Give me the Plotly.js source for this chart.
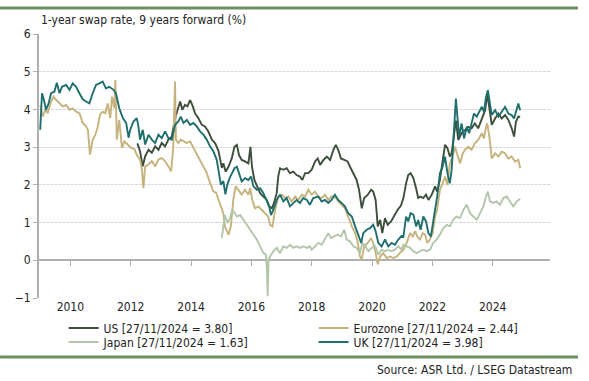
<!DOCTYPE html>
<html>
<head>
<meta charset="utf-8">
<script src="https://cdn.plot.ly/plotly-3.0.1.min.js"></script>
<style>html,body{margin:0;padding:0;background:#fff;}#chart{width:589px;height:381px;}</style>
</head>
<body>
<div id="chart"></div>
<script>
// ---- data (decimal years, % values) ----
const seriesNames = ["US [27/11/2024 = 3.80]", "Eurozone [27/11/2024 = 2.44]", "Japan [27/11/2024 = 1.63]", "UK [27/11/2024 = 3.98]"];
const yearTicks = [2010, 2012, 2014, 2016, 2018, 2020, 2022, 2024];
const yTicks = [-1, 0, 1, 2, 3, 4, 5, 6];

const usX = [2012.22,2012.31,2012.40,2012.48,2012.59,2012.70,2012.81,2012.92,2013.03,2013.14,2013.25,2013.36,2013.47,2013.56,2013.64,2013.71,2013.80,2013.88,2013.97,2014.06,2014.13,2014.24,2014.36,2014.46,2014.57,2014.69,2014.80,2014.91,2015.02,2015.07,2015.15,2015.24,2015.35,2015.44,2015.52,2015.59,2015.68,2015.79,2015.90,2015.97,2016.02,2016.10,2016.18,2016.29,2016.40,2016.51,2016.59,2016.68,2016.75,2016.84,2016.89,2016.95,2017.06,2017.17,2017.28,2017.39,2017.50,2017.61,2017.69,2017.78,2017.89,2018.00,2018.11,2018.20,2018.28,2018.39,2018.50,2018.61,2018.72,2018.80,2018.88,2018.97,2019.08,2019.19,2019.27,2019.38,2019.49,2019.57,2019.66,2019.74,2019.86,2019.97,2020.04,2020.12,2020.19,2020.27,2020.34,2020.43,2020.52,2020.63,2020.74,2020.85,2020.96,2021.04,2021.13,2021.20,2021.28,2021.37,2021.46,2021.53,2021.61,2021.70,2021.79,2021.87,2021.98,2022.09,2022.16,2022.25,2022.34,2022.42,2022.50,2022.58,2022.64,2022.71,2022.78,2022.86,2022.97,2023.08,2023.19,2023.30,2023.41,2023.52,2023.64,2023.75,2023.82,2023.89,2023.97,2024.08,2024.19,2024.30,2024.41,2024.52,2024.63,2024.71,2024.77,2024.85,2024.91];
const usY = [3.1,2.89,2.49,2.76,2.93,2.85,3.02,2.93,3.11,3.02,3.2,3.28,3.77,3.99,4.21,3.99,4.12,4.08,4.25,4.08,3.9,3.77,3.59,3.55,3.42,3.2,3.1,2.9,2.45,2.57,2.35,2.48,2.7,3.01,3.06,2.79,2.66,2.62,2.57,3.01,2.48,2.13,1.96,1.78,1.69,1.6,1.43,1.38,1.52,1.78,2.22,2.44,2.4,2.44,2.31,2.35,2.26,2.22,2.13,2.31,2.31,2.4,2.62,2.7,2.53,2.66,2.75,2.66,2.93,3.06,2.93,2.7,2.66,2.62,2.48,2.31,2.13,1.87,1.38,1.65,1.74,1.87,1.82,1.6,0.9,1.07,0.72,1.12,0.94,1.03,1.2,1.34,1.45,1.65,2.04,2.26,2.31,2.18,1.91,1.65,1.69,1.65,1.74,1.6,1.74,1.96,1.82,2.13,2.62,3.06,2.97,2.75,2.84,3.32,3.7,3.19,3.37,3.45,3.54,3.5,3.63,3.5,3.76,3.98,4.42,4.07,3.59,3.76,3.89,3.76,3.85,3.72,3.5,3.28,3.67,3.81,3.80];

const euX = [2009.01,2009.08,2009.17,2009.25,2009.36,2009.44,2009.53,2009.64,2009.75,2009.86,2009.97,2010.08,2010.19,2010.30,2010.41,2010.52,2010.58,2010.65,2010.74,2010.83,2010.91,2010.98,2011.07,2011.16,2011.24,2011.32,2011.38,2011.46,2011.49,2011.54,2011.62,2011.71,2011.79,2011.90,2012.01,2012.12,2012.20,2012.31,2012.37,2012.42,2012.48,2012.59,2012.70,2012.81,2012.92,2013.03,2013.14,2013.25,2013.34,2013.41,2013.47,2013.50,2013.58,2013.66,2013.75,2013.86,2013.97,2014.08,2014.19,2014.30,2014.41,2014.52,2014.63,2014.74,2014.83,2014.91,2014.99,2015.07,2015.12,2015.24,2015.32,2015.40,2015.48,2015.57,2015.68,2015.79,2015.90,2015.96,2016.03,2016.12,2016.23,2016.34,2016.45,2016.56,2016.62,2016.70,2016.79,2016.89,2017.01,2017.12,2017.23,2017.34,2017.45,2017.56,2017.67,2017.78,2017.89,2018.00,2018.11,2018.22,2018.33,2018.44,2018.55,2018.66,2018.77,2018.88,2018.99,2019.10,2019.21,2019.33,2019.44,2019.53,2019.60,2019.66,2019.74,2019.86,2019.97,2020.04,2020.12,2020.19,2020.27,2020.37,2020.49,2020.60,2020.71,2020.82,2020.93,2021.04,2021.15,2021.26,2021.35,2021.43,2021.50,2021.59,2021.68,2021.76,2021.83,2021.92,2022.01,2022.09,2022.16,2022.25,2022.34,2022.42,2022.50,2022.58,2022.67,2022.75,2022.83,2022.92,2023.01,2023.08,2023.19,2023.30,2023.41,2023.52,2023.64,2023.71,2023.78,2023.82,2023.89,2023.97,2024.08,2024.19,2024.30,2024.41,2024.52,2024.63,2024.74,2024.85,2024.91];
const euY = [4.11,3.81,3.99,3.9,4.21,4.34,4.25,4.16,4.08,4.12,3.99,4.03,3.94,3.9,3.64,3.55,3.46,2.8,3.2,3.33,3.55,3.86,3.94,3.9,4.16,3.77,4.34,4.03,4.78,3.2,3.72,2.98,3.15,3.07,2.98,2.95,2.8,2.67,2.41,1.92,2.49,2.54,2.63,2.49,2.67,2.71,2.63,2.49,2.36,2.98,4.74,3.2,3.11,3.2,3.15,3.11,3.15,2.98,2.85,2.67,2.49,2.32,2.05,1.83,1.79,1.61,1.44,1.25,0.9,0.68,0.9,1.6,1.96,1.87,1.74,1.87,1.74,1.91,1.6,1.38,1.43,1.34,1.25,1.16,0.94,0.9,1.34,1.69,1.74,1.65,1.69,1.56,1.69,1.6,1.74,1.69,1.87,1.74,1.82,1.69,1.65,1.74,1.6,1.69,1.69,1.56,1.47,1.38,1.16,0.9,0.72,0.46,0.1,0.02,0.37,0.46,0.59,0.46,0.19,-0.11,0.1,0.19,0.06,0.1,0.06,0.1,0.2,0.28,0.46,0.72,0.63,0.77,0.63,0.55,0.72,0.68,0.46,0.55,0.72,1.16,1.34,1.87,2.04,2.22,2.0,2.57,2.75,3.01,2.79,2.57,2.84,2.93,3.01,2.93,3.1,3.19,3.37,3.23,3.54,3.63,3.28,2.7,2.84,2.75,2.88,2.84,2.7,2.75,2.62,2.66,2.44];

const jpX = [2015.02,2015.07,2015.12,2015.21,2015.29,2015.37,2015.44,2015.52,2015.63,2015.74,2015.85,2015.96,2016.07,2016.18,2016.29,2016.40,2016.48,2016.52,2016.54,2016.57,2016.62,2016.73,2016.84,2016.95,2017.06,2017.17,2017.28,2017.39,2017.50,2017.61,2017.72,2017.84,2017.94,2018.00,2018.11,2018.22,2018.33,2018.44,2018.55,2018.64,2018.75,2018.86,2018.97,2019.08,2019.16,2019.27,2019.38,2019.49,2019.60,2019.68,2019.77,2019.88,2019.99,2020.10,2020.21,2020.32,2020.43,2020.54,2020.65,2020.76,2020.87,2020.98,2021.04,2021.15,2021.26,2021.37,2021.48,2021.59,2021.70,2021.81,2021.92,2022.03,2022.14,2022.25,2022.36,2022.48,2022.58,2022.69,2022.80,2022.92,2023.03,2023.14,2023.25,2023.36,2023.47,2023.58,2023.69,2023.78,2023.84,2023.91,2024.02,2024.13,2024.24,2024.35,2024.47,2024.57,2024.68,2024.80,2024.91];
const jpY = [0.59,0.9,1.2,0.99,1.12,1.34,1.25,1.16,1.2,1.07,0.94,0.81,0.68,0.55,0.37,0.19,0.15,-0.3,-0.95,0.0,0.1,0.24,0.33,0.19,0.37,0.33,0.41,0.33,0.37,0.33,0.37,0.33,0.37,0.28,0.37,0.46,0.41,0.55,0.72,0.59,0.63,0.68,0.63,0.81,0.55,0.5,0.37,0.33,0.19,0.46,0.37,0.24,0.33,0.37,0.15,0.28,0.24,0.28,0.24,0.28,0.37,0.28,0.41,0.37,0.33,0.24,0.19,0.24,0.28,0.24,0.28,0.46,0.55,0.68,0.85,0.94,0.9,1.07,1.16,1.12,1.34,1.47,1.25,1.16,1.07,1.25,1.43,1.69,1.82,1.56,1.52,1.56,1.47,1.65,1.69,1.56,1.43,1.56,1.63];

const ukX = [2009.00,2009.06,2009.14,2009.19,2009.28,2009.36,2009.47,2009.55,2009.64,2009.72,2009.86,2009.97,2010.08,2010.19,2010.30,2010.41,2010.52,2010.63,2010.74,2010.85,2010.96,2011.07,2011.18,2011.29,2011.43,2011.51,2011.62,2011.74,2011.85,2011.93,2011.98,2012.09,2012.20,2012.25,2012.31,2012.40,2012.48,2012.59,2012.70,2012.81,2012.92,2013.03,2013.14,2013.25,2013.36,2013.47,2013.58,2013.66,2013.75,2013.86,2013.97,2014.08,2014.19,2014.30,2014.41,2014.52,2014.63,2014.74,2014.85,2014.93,2014.99,2015.07,2015.14,2015.20,2015.29,2015.44,2015.52,2015.59,2015.68,2015.79,2015.90,2015.99,2016.07,2016.18,2016.29,2016.40,2016.51,2016.59,2016.65,2016.73,2016.84,2016.95,2017.06,2017.17,2017.28,2017.39,2017.50,2017.61,2017.72,2017.84,2017.94,2018.05,2018.22,2018.33,2018.44,2018.55,2018.66,2018.77,2018.88,2018.99,2019.10,2019.21,2019.33,2019.44,2019.55,2019.64,2019.71,2019.82,2019.93,2020.04,2020.12,2020.21,2020.32,2020.43,2020.54,2020.65,2020.76,2020.87,2020.98,2021.04,2021.13,2021.20,2021.28,2021.37,2021.46,2021.53,2021.61,2021.70,2021.79,2021.87,2021.95,2022.01,2022.09,2022.16,2022.25,2022.34,2022.42,2022.50,2022.58,2022.64,2022.69,2022.75,2022.78,2022.83,2022.89,2022.97,2023.05,2023.14,2023.22,2023.30,2023.38,2023.47,2023.56,2023.64,2023.71,2023.78,2023.84,2023.91,2023.97,2024.08,2024.19,2024.30,2024.41,2024.52,2024.63,2024.71,2024.80,2024.85,2024.91];
const ukY = [3.46,4.43,4.2,3.99,4.16,4.43,4.47,4.71,4.43,4.6,4.65,4.52,4.69,4.6,4.43,4.27,4.21,4.16,4.43,4.65,4.69,4.74,4.56,4.6,4.52,4.43,4.03,3.77,3.64,3.25,3.45,3.68,3.77,3.59,3.2,3.46,3.07,3.33,3.2,3.11,3.33,3.24,3.42,3.24,3.2,3.59,3.68,3.81,3.64,3.72,3.59,3.64,3.55,3.42,3.33,3.2,3.02,2.89,2.67,2.32,2.0,2.1,1.75,2.0,2.2,2.44,2.48,2.31,2.09,2.18,2.13,2.22,1.96,1.87,1.91,1.78,1.6,1.43,1.2,1.34,1.6,1.74,1.56,1.65,1.43,1.52,1.6,1.52,1.65,1.6,1.47,1.65,1.69,1.56,1.6,1.52,1.6,1.74,1.6,1.52,1.43,1.25,1.16,0.9,0.63,0.46,0.72,0.81,0.85,0.94,0.77,0.46,0.37,0.55,0.37,0.46,0.41,0.55,0.65,0.63,1.16,1.03,1.25,1.21,0.9,1.07,0.81,1.16,1.03,0.72,0.63,0.99,1.34,1.69,2.31,2.48,2.75,2.31,2.04,2.4,3.1,3.63,4.29,3.81,3.28,3.63,3.23,3.54,3.37,3.63,3.89,3.81,3.94,4.07,3.94,4.33,4.51,4.16,3.85,3.98,3.81,3.94,4.07,3.89,3.85,3.76,3.98,4.16,3.98];

// ---- styling ----
const colors = ["#3d4f3c", "#c6b27c", "#b2c6aa", "#1f6f6d"];
const legendOf = ["legend", "legend", "legend2", "legend2"];
const FONT = "'DejaVu Sans Condensed', 'DejaVu Sans', sans-serif";
const GRID = "#d6d6d6", AXIS = "#b0b0b0";

const mk = (x, y, i) => ({
  type: "scatter", mode: "lines", x: x, y: y, name: seriesNames[i], legend: legendOf[i],
  line: {color: colors[i], width: 1.9}, hoverinfo: "skip"
});

// helper trace that only carries the overlay axes (tick marks on the zero line, gridlines)
const axisCarrier = {type: "scatter", mode: "lines", x: [yearTicks[0]], y: [yTicks[1]],
  xaxis: "x2", yaxis: "y2", showlegend: false, hoverinfo: "skip", line: {width: 0}};

const traces = [axisCarrier, mk(usX, usY, 0), mk(euX, euY, 1), mk(jpX, jpY, 2), mk(ukX, ukY, 3)];

const legendBase = {
  orientation: "h", xref: "container", yref: "container",
  x: 0.108, xanchor: "left", yanchor: "middle",
  entrywidth: 205, entrywidthmode: "pixels",
  font: {family: FONT, size: 12, color: "#222"},
  itemwidth: 30, bgcolor: "rgba(0,0,0,0)", borderwidth: 0
};

const layout = {
  width: 589, height: 381,
  margin: {l: 39, r: 39, t: 34, b: 83, autoexpand: false},
  paper_bgcolor: "#fff", plot_bgcolor: "#fff",
  font: {family: FONT, size: 12, color: "#222"},
  showlegend: true,
  legend: Object.assign({}, legendBase, {y: 1 - 328 / 381}),
  legend2: Object.assign({}, legendBase, {y: 1 - 342 / 381}),
  xaxis: {
    range: [2008.96, 2025.9], tickvals: yearTicks, ticktext: yearTicks.map(String),
    ticks: "", showgrid: false, zeroline: false, showline: false,
    tickfont: {family: FONT, size: 12, color: "#222"}, fixedrange: true
  },
  xaxis2: {
    overlaying: "x", range: [2008.96, 2025.9], anchor: "free", position: 1 / 7, side: "bottom",
    tickvals: yearTicks, ticks: "outside", ticklen: 5, tickwidth: 1, tickcolor: AXIS,
    showticklabels: false, showgrid: false, zeroline: false, showline: false
  },
  yaxis: {
    range: [-1, 6], tickvals: yTicks, ticks: "outside", ticklen: 4, tickwidth: 1, tickcolor: AXIS,
    showline: true, linecolor: AXIS, linewidth: 2,
    showgrid: false, zeroline: true, zerolinecolor: AXIS, zerolinewidth: 2,
    tickfont: {family: FONT, size: 12, color: "#222"}, fixedrange: true
  },
  yaxis2: {
    overlaying: "y", range: [-1, 6], tickvals: yTicks.filter(v => v > 0),
    showticklabels: false, ticks: "", showgrid: true, gridcolor: GRID, gridwidth: 1, griddash: "3px,1px",
    zeroline: false, showline: false
  },
  annotations: [
    {xref: "paper", yref: "paper", x: 0, y: 1.053, xanchor: "left", yanchor: "middle",
     text: "1-year swap rate, 9 years forward (%)", showarrow: false,
     font: {family: FONT, size: 12, color: "#222"}},
    {xref: "paper", yref: "paper", x: 1.047, y: -0.273, xanchor: "right", yanchor: "middle",
     text: "Source: ASR Ltd. / LSEG Datastream", showarrow: false,
     font: {family: FONT, size: 12, color: "#222"}}
  ],
  shapes: [
    {type: "line", xref: "paper", yref: "paper", x0: -0.0763, x1: 1.0548, y0: 1.0985, y1: 1.0985,
     line: {color: "#6f8f60", width: 3}},
    {type: "line", xref: "paper", yref: "paper", x0: -0.0763, x1: 1.0548, y0: -0.2235, y1: -0.2235,
     line: {color: "#6f8f60", width: 3}}
  ]
};

Plotly.newPlot("chart", traces, layout, {staticPlot: true, displayModeBar: false});
</script>
</body>
</html>
